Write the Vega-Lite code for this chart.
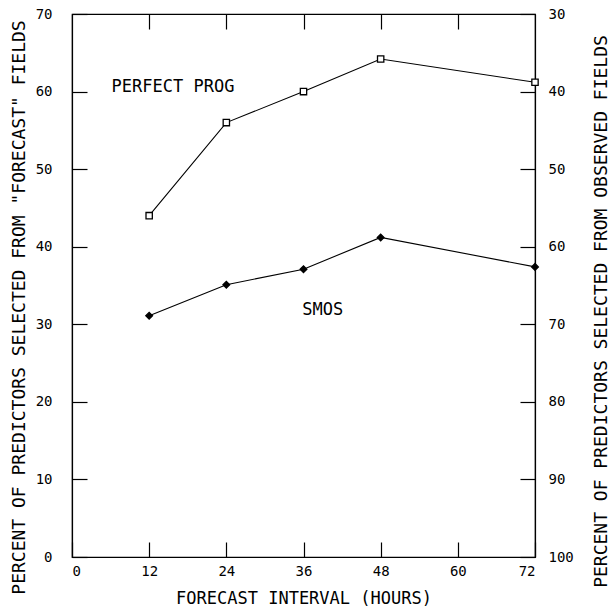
{
  "$schema": "https://vega.github.io/schema/vega-lite/v6.json",
  "width": 463,
  "height": 543,
  "autosize": {"type": "none"},
  "padding": {"left": 72, "top": 14, "right": 79, "bottom": 50},
  "background": "white",
  "config": {
    "view": {"stroke": "black", "strokeWidth": 1.2},
    "font": "DejaVu Sans Mono",
    "axis": {
      "domainColor": "black",
      "domainWidth": 1.2,
      "tickColor": "black",
      "tickWidth": 1.2,
      "grid": false,
      "labelColor": "black",
      "titleColor": "black",
      "labelFont": "DejaVu Sans Mono",
      "titleFont": "DejaVu Sans Mono",
      "labelFontSize": 14,
      "titleFontSize": 17,
      "titleFontWeight": "normal"
    }
  },
  "datasets": {
    "series": [
      {"series": "PERFECT PROG", "hours": 12, "pct": 44.0},
      {"series": "PERFECT PROG", "hours": 24, "pct": 56.0},
      {"series": "PERFECT PROG", "hours": 36, "pct": 60.0},
      {"series": "PERFECT PROG", "hours": 48, "pct": 64.2},
      {"series": "PERFECT PROG", "hours": 72, "pct": 61.2},
      {"series": "SMOS", "hours": 12, "pct": 31.1},
      {"series": "SMOS", "hours": 24, "pct": 35.1},
      {"series": "SMOS", "hours": 36, "pct": 37.1},
      {"series": "SMOS", "hours": 48, "pct": 41.2},
      {"series": "SMOS", "hours": 72, "pct": 37.4}
    ],
    "labels": [
      {"text": "PERFECT PROG", "hours": 15.7, "pct": 60.6},
      {"text": "SMOS", "hours": 39.0, "pct": 31.9}
    ]
  },
  "layer": [
    {
      "data": {"name": "series"},
      "mark": {"type": "line", "color": "black", "strokeWidth": 1.1},
      "encoding": {
        "x": {
          "field": "hours", "type": "quantitative",
          "scale": {"domain": [0, 72], "nice": false},
          "axis": {
            "orient": "bottom",
            "values": [0, 12, 24, 36, 48, 60, 72],
            "tickSize": -15,
            "labelPadding": 22,
            "title": "FORECAST INTERVAL (HOURS)",
            "titlePadding": 12
          }
        },
        "y": {
          "field": "pct", "type": "quantitative",
          "scale": {"domain": [0, 70], "nice": false},
          "axis": {
            "orient": "left",
            "values": [0, 10, 20, 30, 40, 50, 60, 70],
            "tickSize": -15,
            "labelPadding": 35,
            "title": "PERCENT OF PREDICTORS SELECTED FROM \"FORECAST\" FIELDS",
            "titleFontSize": 18,
            "titleBaseline": "middle",
            "titleX": -53,
            "titleY": 293
          }
        },
        "detail": {"field": "series", "type": "nominal"}
      }
    },
    {
      "data": {"name": "series"},
      "mark": {"type": "point", "stroke": "black", "strokeWidth": 1.3, "opacity": 1},
      "encoding": {
        "x": {"field": "hours", "type": "quantitative", "scale": {"domain": [0, 72], "nice": false}, "axis": null},
        "y": {"field": "pct", "type": "quantitative", "scale": {"domain": [0, 70], "nice": false}, "axis": null},
        "shape": {"field": "series", "type": "nominal", "scale": {"domain": ["PERFECT PROG", "SMOS"], "range": ["square", "diamond"]}, "legend": null},
        "fill": {"field": "series", "type": "nominal", "scale": {"domain": ["PERFECT PROG", "SMOS"], "range": ["white", "black"]}, "legend": null},
        "size": {"field": "series", "type": "nominal", "scale": {"domain": ["PERFECT PROG", "SMOS"], "range": [40, 45]}, "legend": null}
      }
    },
    {
      "data": {"name": "labels"},
      "mark": {"type": "text", "font": "DejaVu Sans Mono", "fontSize": 17, "color": "black", "align": "center", "baseline": "middle"},
      "encoding": {
        "x": {"field": "hours", "type": "quantitative", "scale": {"domain": [0, 72], "nice": false}, "axis": null},
        "y": {"field": "pct", "type": "quantitative", "scale": {"domain": [0, 70], "nice": false}, "axis": null},
        "text": {"field": "text", "type": "nominal"}
      }
    },
    {
      "data": {"name": "series"},
      "mark": {"type": "point", "opacity": 0},
      "encoding": {
        "x": {
          "field": "hours", "type": "quantitative",
          "scale": {"domain": [0, 72], "nice": false},
          "axis": {"orient": "top", "values": [12, 24, 36, 48, 60], "tickSize": -15, "labels": false, "domain": false, "title": null}
        },
        "y": {"field": "pct", "type": "quantitative", "scale": {"domain": [0, 70], "nice": false}, "axis": null}
      }
    },
    {
      "data": {"name": "series"},
      "mark": {"type": "point", "opacity": 0},
      "encoding": {
        "x": {"field": "hours", "type": "quantitative", "scale": {"domain": [0, 72], "nice": false}, "axis": null},
        "y": {
          "field": "pct", "type": "quantitative",
          "scale": {"domain": [30, 100], "nice": false, "reverse": true},
          "axis": {
            "orient": "right",
            "values": [30, 40, 50, 60, 70, 80, 90, 100],
            "tickSize": -15,
            "labelPadding": 28,
            "title": "PERCENT OF PREDICTORS SELECTED FROM OBSERVED FIELDS",
            "titleFontSize": 18,
            "titleAngle": 270,
            "titleBaseline": "middle",
            "titleX": 66,
            "titleY": 297
          }
        }
      }
    }
  ],
  "resolve": {
    "scale": {"y": "independent"},
    "axis": {"x": "independent", "y": "independent"}
  }
}
